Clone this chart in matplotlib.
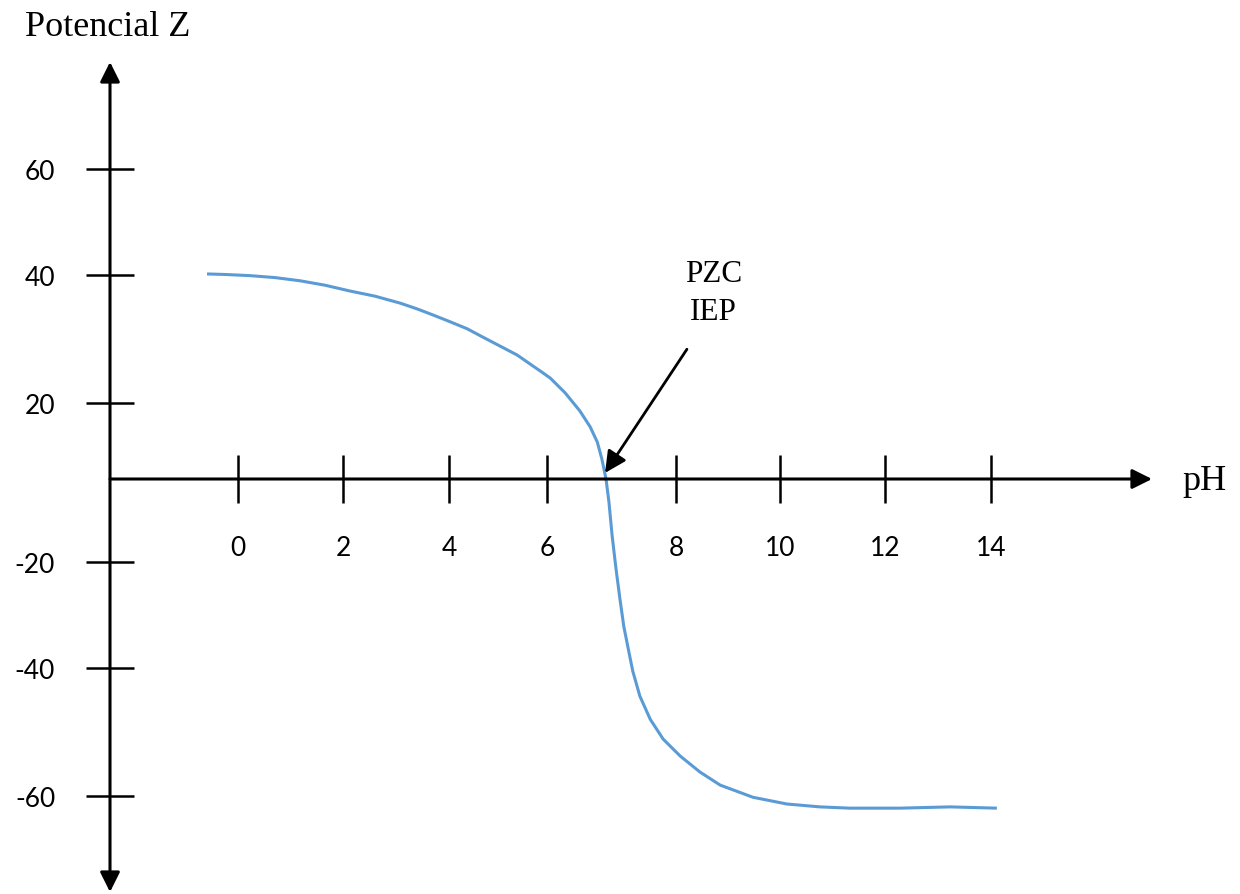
import numpy as np
import matplotlib
matplotlib.use("Agg")
import matplotlib.pyplot as plt

# ---- data -------------------------------------------------------------
ph_ticks = [0, 2, 4, 6, 8, 10, 12, 14]
ph_tick_labels = ["0", "2", "4", "6", "8", "10", "12", "14"]
z_ticks = [-60, -40, -20, 20, 40, 60]
z_tick_labels = ["-60", "-40", "-20", "20", "40", "60"]

# zeta potential curve (pH, mV)
curve_ph = [-0.59, -0.25, 0.23, 0.70, 1.18, 1.66, 2.13, 2.60, 3.08, 3.40,
            3.70, 4.02, 4.37, 4.69, 5.04, 5.39, 5.71, 5.90, 6.05, 6.28,
            6.51, 6.67, 6.78, 6.85, 6.915, 6.96, 7.01, 7.07, 7.13, 7.19,
            7.26, 7.33, 7.44, 7.60, 7.80, 8.08, 8.46, 8.85, 9.48, 10.13,
            10.76, 11.33, 12.28, 13.23, 14.11]
curve_z = [40.2, 40.1, 39.9, 39.6, 39.1, 38.4, 37.5, 36.7, 35.6, 34.7,
           33.75, 32.7, 31.6, 30.3, 28.9, 27.5, 25.8, 24.8, 23.9, 21.6,
           17.9, 13.7, 9.7, 5.3, 0.0, -5.5, -13.7, -21.3, -26.9, -32.1,
           -36.4, -40.5, -44.4, -48.0, -51.1, -53.75, -56.25, -58.3, -60.2,
           -61.25, -61.7, -61.9, -61.9, -61.7, -61.9]

# point of zero charge / isoelectric point marker
pzc_tip = (6.90, 1.6)
pzc_tail = (8.21, 28.4)

# ---- hand-drawn axis layout (figure pixels) ---------------------------
W, H = 1240, 895
ph_anchor = [0, 2, 4, 6, 8, 10, 12, 14]
ph_anchor_px = [238, 343, 449, 547, 676, 780, 885, 991]
z_anchor = [-60, -40, -20, 0, 20, 40, 60]
z_anchor_px = [H - p for p in [797, 669, 563, 480, 404, 276, 170]]


def _pwl(v, xp, fp):
    v = np.asarray(v, dtype=float)
    out = np.interp(v, xp, fp)
    lo_slope = (fp[1] - fp[0]) / (xp[1] - xp[0])
    hi_slope = (fp[-1] - fp[-2]) / (xp[-1] - xp[-2])
    out = np.where(v < xp[0], fp[0] + (v - xp[0]) * lo_slope, out)
    out = np.where(v > xp[-1], fp[-1] + (v - xp[-1]) * hi_slope, out)
    return out


def x_fwd(v):
    return _pwl(v, ph_anchor, ph_anchor_px)


def x_inv(v):
    return _pwl(v, ph_anchor_px, ph_anchor)


def y_fwd(v):
    return _pwl(v, z_anchor, z_anchor_px)


def y_inv(v):
    return _pwl(v, z_anchor_px, z_anchor)


fig = plt.figure(figsize=(W / 100, H / 100), dpi=100)
ax = fig.add_axes([0, 0, 1, 1])
ax.set_xscale("function", functions=(x_fwd, x_inv))
ax.set_yscale("function", functions=(y_fwd, y_inv))
ax.set_xlim(float(x_inv(0)), float(x_inv(W)))
ax.set_ylim(float(y_inv(0)), float(y_inv(H)))
ax.patch.set_visible(False)

# spines carry the ticks; the visible axis lines are arrows
for s in ax.spines.values():
    s.set_color("none")
ax.spines["bottom"].set_position(("data", 0))
ax.spines["left"].set_position(("axes", 110 / W))

tick_font = dict(family="Lato", size=19)
ax.set_xticks(ph_ticks)
ax.set_xticklabels(ph_tick_labels, fontdict=tick_font)
ax.set_yticks(z_ticks)
ax.set_yticklabels(z_tick_labels, fontdict=tick_font)
ax.minorticks_off()
ax.tick_params(axis="both", direction="inout", length=35, width=1.8,
               color="black", labelcolor="black")
ax.tick_params(axis="x", pad=23)
ax.tick_params(axis="y", pad=22)

arrow_style = "-|>,head_length=12,head_width=6"
ax.annotate("", xy=(1152, 0), xytext=(110, 0),
            xycoords=("figure pixels", "data"),
            textcoords=("figure pixels", "data"),
            arrowprops=dict(arrowstyle=arrow_style, lw=2.2, color="black",
                            mutation_scale=1, shrinkA=0, shrinkB=0))
ax.annotate("", xy=(110, H - 63), xytext=(110, H - 893),
            xycoords="figure pixels", textcoords="figure pixels",
            arrowprops=dict(arrowstyle="<|-|>,head_length=12,head_width=6",
                            lw=2.2, color="black", mutation_scale=1,
                            shrinkA=0, shrinkB=0))

# zeta potential curve
ax.plot(curve_ph, curve_z, color="#5B9BD5", lw=2.2, clip_on=False,
        solid_joinstyle="round", solid_capstyle="butt")

# PZC / IEP arrow
ax.annotate("", xy=pzc_tip, xytext=pzc_tail,
            arrowprops=dict(arrowstyle="-|>,head_length=13,head_width=6.5",
                            lw=2.0, color="black", mutation_scale=1,
                            shrinkA=0, shrinkB=0))

serif = dict(family="Liberation Serif", color="black")
fig.text(25 / W, 1 - 36 / H, "Potencial Z", fontsize=26, va="baseline",
         ha="left", **serif)
fig.text(1182 / W, 1 - 490 / H, "pH", fontsize=26, va="baseline",
         ha="left", **serif)
fig.text(714 / W, 1 - 282 / H, "PZC", fontsize=22.5, va="baseline",
         ha="center", **serif)
fig.text(713 / W, 1 - 320 / H, "IEP", fontsize=22.5, va="baseline",
         ha="center", **serif)

fig.savefig("out.png", dpi=100)
